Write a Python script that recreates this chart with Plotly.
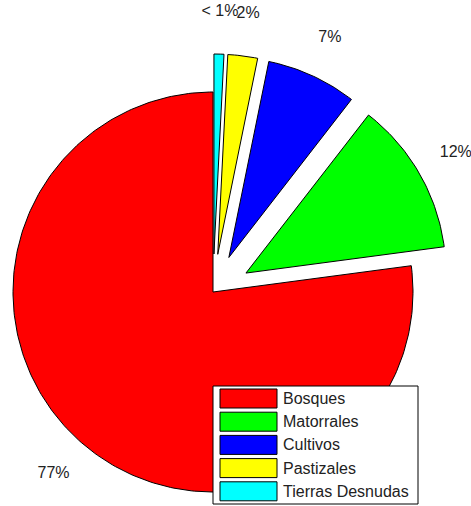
import numpy as np
import plotly.graph_objects as go

# Land-cover shares (percent of total area)
labels = ["Bosques", "Matorrales", "Cultivos", "Pastizales", "Tierras Desnudas"]
values = [77.1, 12.4, 7.3, 2.4, 0.8]
colors = ["#ff0000", "#00ff00", "#0000ff", "#ffff00", "#00ffff"]
explode = [0, 1, 1, 1, 1]

EXPLODE_OFFSET = 0.19   # fraction of radius for detached wedges
LABEL_RADIUS = 1.21     # radial position of percentage labels
PX_PER_UNIT = 200       # pixels per unit radius
CENTER_PX = (213, 292)  # pie centre in pixels from top-left
W, H = 471, 506
FONT = "Liberation Sans, Arial, Helvetica, sans-serif"
TEXT_COLOR = "#222222"

# Legend box geometry (pixels from top-left)
LEG_BOX = (213, 386, 418, 504)   # left, top, right, bottom
LEG_SWATCH_X = (220, 277)
LEG_FIRST_TOP = 389
LEG_ROW = 23.2
LEG_SWATCH_H = 19
LEG_TEXT_X = 281


def pct_label(frac):
    return "< 1%" if frac < 0.01 else f"{round(frac * 100)}%"


def px(xp):
    return xp / W


def py(yp):
    return 1 - yp / H


total = float(sum(values))
fracs = [v / total for v in values]

fig = go.Figure()
theta0 = np.pi / 2
lx, ly, lt = [], [], []
for name, frac, col, ex in zip(labels, fracs, colors, explode):
    n = max(2, int(np.ceil(360 * frac)))
    th = theta0 + np.linspace(0, 2 * np.pi * frac, n + 1)
    mid = theta0 + np.pi * frac
    ox = EXPLODE_OFFSET * np.cos(mid) if ex else 0.0
    oy = EXPLODE_OFFSET * np.sin(mid) if ex else 0.0
    xs = np.concatenate([[ox], ox + np.cos(th), [ox]])
    ys = np.concatenate([[oy], oy + np.sin(th), [oy]])
    fig.add_trace(go.Scatter(
        x=xs, y=ys, mode="lines", fill="toself", fillcolor=col,
        line=dict(color="black", width=1), name=name,
        hoverinfo="name", showlegend=False,
    ))
    lx.append(ox + LABEL_RADIUS * np.cos(mid))
    ly.append(oy + LABEL_RADIUS * np.sin(mid))
    lt.append(pct_label(frac))
    theta0 += 2 * np.pi * frac

fig.add_trace(go.Scatter(
    x=lx, y=ly, mode="text", text=lt, showlegend=False, hoverinfo="skip",
    textfont=dict(family=FONT, size=16, color=TEXT_COLOR),
))

# Boxed legend with wide colour swatches
shapes = [dict(
    type="rect", xref="paper", yref="paper",
    x0=px(LEG_BOX[0]), x1=px(LEG_BOX[2]), y0=py(LEG_BOX[3]), y1=py(LEG_BOX[1]),
    fillcolor="white", line=dict(color="black", width=1), layer="above",
)]
annotations = []
for i, (name, col) in enumerate(zip(labels, colors)):
    top = LEG_FIRST_TOP + i * LEG_ROW
    shapes.append(dict(
        type="rect", xref="paper", yref="paper",
        x0=px(LEG_SWATCH_X[0]), x1=px(LEG_SWATCH_X[1]),
        y0=py(top + LEG_SWATCH_H), y1=py(top),
        fillcolor=col, line=dict(color="black", width=1), layer="above",
    ))
    annotations.append(dict(
        xref="paper", yref="paper", x=px(LEG_TEXT_X), y=py(top + LEG_SWATCH_H / 2),
        text=name, showarrow=False, xanchor="left", yanchor="middle",
        font=dict(family=FONT, size=16, color=TEXT_COLOR),
    ))

cx, cy = CENTER_PX
fig.update_layout(
    width=W, height=H,
    margin=dict(l=0, r=0, t=0, b=0),
    paper_bgcolor="white", plot_bgcolor="white",
    xaxis=dict(range=[-cx / PX_PER_UNIT, (W - cx) / PX_PER_UNIT], visible=False, fixedrange=True),
    yaxis=dict(range=[-(H - cy) / PX_PER_UNIT, cy / PX_PER_UNIT], visible=False, fixedrange=True),
    showlegend=False,
    shapes=shapes,
    annotations=annotations,
)

fig.write_html("out.html")
